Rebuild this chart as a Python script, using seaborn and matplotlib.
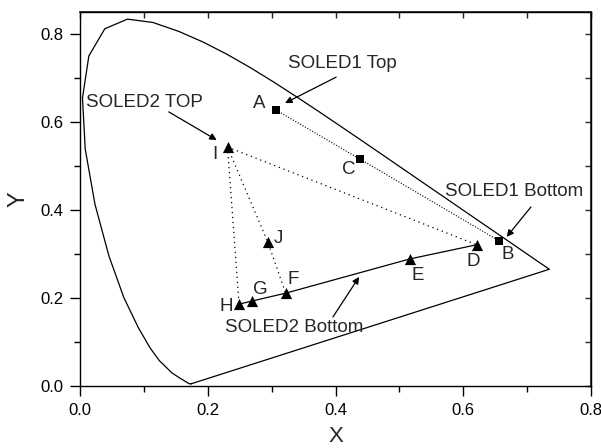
import matplotlib
matplotlib.use("Agg")
import matplotlib.pyplot as plt
import seaborn as sns
from matplotlib.ticker import MultipleLocator

# CIE 1931 spectral locus (closed by the purple line)
locus_x = [0.1741, 0.1738, 0.1733, 0.1726, 0.1714, 0.1689, 0.1644, 0.1566, 0.1440,
           0.1241, 0.1096, 0.0913, 0.0687, 0.0454, 0.0235, 0.0082, 0.0039, 0.0139,
           0.0389, 0.0743, 0.1142, 0.1547, 0.1929, 0.2296, 0.2658, 0.3016, 0.3373,
           0.3731, 0.4087, 0.4441, 0.4788, 0.5125, 0.5448, 0.5752, 0.6029, 0.6270,
           0.6658, 0.6915, 0.7079, 0.7190, 0.7260, 0.7300, 0.7334, 0.7347, 0.1741]
locus_y = [0.0050, 0.0049, 0.0048, 0.0048, 0.0051, 0.0069, 0.0109, 0.0177, 0.0297,
           0.0578, 0.0868, 0.1327, 0.2007, 0.2950, 0.4127, 0.5384, 0.6548, 0.7502,
           0.8120, 0.8338, 0.8262, 0.8059, 0.7816, 0.7543, 0.7243, 0.6923, 0.6589,
           0.6245, 0.5896, 0.5547, 0.5202, 0.4866, 0.4544, 0.4242, 0.3965, 0.3725,
           0.3340, 0.3083, 0.2920, 0.2809, 0.2740, 0.2700, 0.2666, 0.2653, 0.0050]

# SOLED1 (squares)
sq_labels = ["A", "B", "C"]
sq_x = [0.307, 0.656, 0.438]
sq_y = [0.627, 0.330, 0.516]

# SOLED2 (triangles)
tri_labels = ["D", "E", "F", "G", "H", "I", "J"]
tri_x = [0.621, 0.517, 0.322, 0.269, 0.249, 0.231, 0.294]
tri_y = [0.321, 0.289, 0.211, 0.193, 0.186, 0.543, 0.327]

pts = dict(zip(sq_labels, zip(sq_x, sq_y)))
pts.update(dict(zip(tri_labels, zip(tri_x, tri_y))))

# label positions (data coords)
label_pos = {
    "A": (0.280, 0.643), "B": (0.670, 0.298), "C": (0.420, 0.493),
    "D": (0.615, 0.284), "E": (0.528, 0.252), "F": (0.333, 0.241),
    "G": (0.282, 0.220), "H": (0.229, 0.180), "I": (0.211, 0.527),
    "J": (0.310, 0.336),
}

# callouts: text, text centre, arrow tail, arrow tip
callouts = [
    ("SOLED1 Top", (0.410, 0.734), (0.401, 0.702), (0.321, 0.643)),
    ("SOLED2 TOP", (0.101, 0.645), (0.139, 0.623), (0.214, 0.559)),
    ("SOLED1 Bottom", (0.680, 0.441), (0.706, 0.407), (0.668, 0.339)),
    ("SOLED2 Bottom", (0.335, 0.134), (0.396, 0.157), (0.437, 0.248)),
]

sns.set_theme(style="ticks")
plt.rcParams["font.family"] = ["Liberation Sans", "DejaVu Sans"]

fig = plt.figure(figsize=(6.01, 4.48), dpi=100)
ax = fig.add_axes([0.1331, 0.1384, 0.8503, 0.8348])

sns.lineplot(x=locus_x, y=locus_y, sort=False, estimator=None, color="black",
             lw=0.9, ax=ax)


def connect(names, **kw):
    xs = [pts[n][0] for n in names]
    ys = [pts[n][1] for n in names]
    sns.lineplot(x=xs, y=ys, sort=False, estimator=None, color="black", ax=ax, **kw)


connect(["H", "G", "F", "E", "D"], lw=0.9)
connect(["A", "C", "B"], lw=0.8, linestyle=(0, (1, 1.5)))
connect(["I", "D"], lw=0.9, linestyle=(0, (1, 3)))
connect(["I", "H"], lw=0.9, linestyle=(0, (1, 3)))
connect(["I", "J", "F"], lw=0.9, linestyle=(0, (1, 3)))

sns.scatterplot(x=sq_x, y=sq_y, marker="s", s=32, color="black",
                edgecolor="black", linewidth=0, ax=ax, zorder=5)
sns.scatterplot(x=tri_x, y=tri_y, marker="^", s=65, color="black",
                edgecolor="black", linewidth=0, ax=ax, zorder=5)

for name, (lx, ly) in label_pos.items():
    ax.text(lx, ly, name, ha="center", va="center", fontsize=13.5)

for txt, tpos, tail, tip in callouts:
    ax.text(tpos[0], tpos[1], txt, ha="center", va="center", fontsize=13.5)
    ax.annotate("", xy=tip, xytext=tail,
                arrowprops=dict(arrowstyle="-|>", color="black", lw=0.9,
                                mutation_scale=10, shrinkA=0, shrinkB=0))

ax.set_xlim(0, 0.8)
ax.set_ylim(0, 0.85)
ax.xaxis.set_major_locator(MultipleLocator(0.2))
ax.xaxis.set_minor_locator(MultipleLocator(0.1))
ax.yaxis.set_major_locator(MultipleLocator(0.2))
ax.yaxis.set_minor_locator(MultipleLocator(0.1))
ax.xaxis.set_major_formatter(plt.FormatStrFormatter("%.1f"))
ax.yaxis.set_major_formatter(plt.FormatStrFormatter("%.1f"))
ax.tick_params(which="major", direction="out", length=7, width=1, labelsize=12,
               color="black", labelcolor="black", pad=5)
ax.tick_params(which="minor", direction="out", length=4, width=1, color="black")

# inward ticks on top/right
for spine in ax.spines.values():
    spine.set_linewidth(1)
    spine.set_color("black")
top = ax.secondary_xaxis("top")
top.xaxis.set_major_locator(MultipleLocator(0.1))
top.tick_params(direction="in", length=4, width=1, labeltop=False)
right = ax.secondary_yaxis("right")
right.yaxis.set_major_locator(MultipleLocator(0.1))
right.tick_params(direction="in", length=4, width=1, labelright=False)

ax.set_xlabel("X", fontsize=16, labelpad=6)
ax.set_ylabel("Y", fontsize=17, labelpad=8)

fig.savefig("out.png", dpi=100)
